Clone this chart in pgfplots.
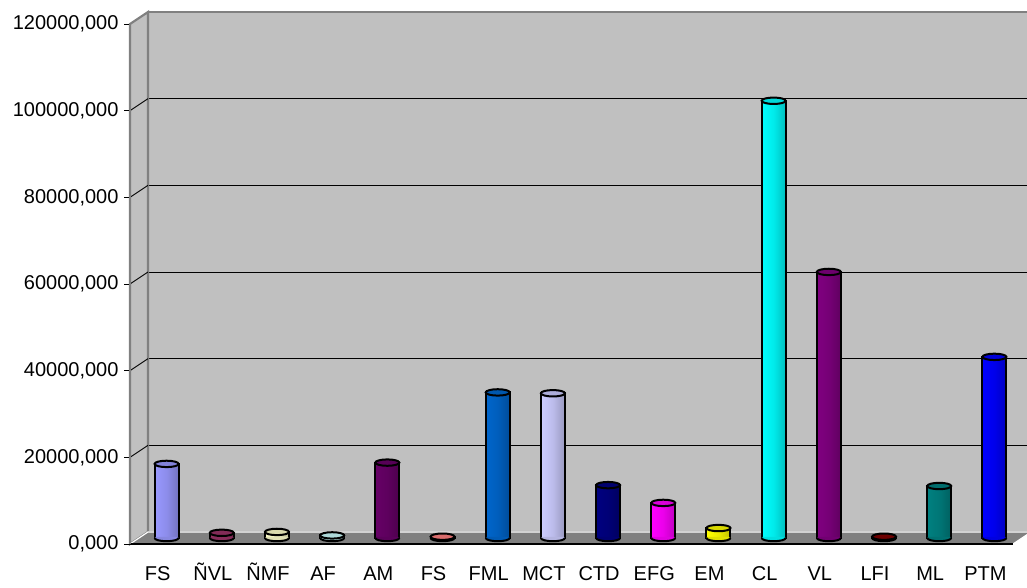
\documentclass[border=0pt]{standalone}
\usepackage{pgfplots}
\pgfplotsset{compat=1.18}
\usepackage{fontspec}
\setmainfont{Liberation Sans}

% Excel-style palette
\definecolor{wall}{HTML}{C0C0C0}
\definecolor{floorc}{HTML}{808080}
\definecolor{cA}{HTML}{9999FF}
\definecolor{cB}{HTML}{993366}
\definecolor{cC}{HTML}{FFFFCC}
\definecolor{cD}{HTML}{CCFFFF}
\definecolor{cE}{HTML}{660066}
\definecolor{cF}{HTML}{FF8080}
\definecolor{cG}{HTML}{0066CC}
\definecolor{cH}{HTML}{CCCCFF}
\definecolor{cI}{HTML}{000080}
\definecolor{cJ}{HTML}{FF00FF}
\definecolor{cK}{HTML}{FFFF00}
\definecolor{cL}{HTML}{00FFFF}
\definecolor{cM}{HTML}{800080}
\definecolor{cN}{HTML}{800000}
\definecolor{cO}{HTML}{008080}
\definecolor{cP}{HTML}{0000FF}

% top cap of a cylinder
\pgfdeclareplotmark{cyltop}{%
  \pgfpathellipse{\pgfpointorigin}{\pgfpoint{12pt}{0pt}}{\pgfpoint{0pt}{3.2pt}}%
  \pgfusepathqfillstroke}
% rounded foot of a cylinder: fill hides the straight bar edge, stroke draws the arc
\pgfdeclareplotmark{cylfoot}{%
  \pgfpathmoveto{\pgfpoint{-12pt}{0pt}}%
  \pgfpatharc{180}{360}{12pt and 3.2pt}%
  \pgfpathlineto{\pgfpoint{10.8pt}{1.2pt}}%
  \pgfpathlineto{\pgfpoint{-10.8pt}{1.2pt}}%
  \pgfpathclose
  \pgfusepathqfill
  \pgfpathmoveto{\pgfpoint{-12pt}{0pt}}%
  \pgfpatharc{180}{360}{12pt and 3.2pt}%
  \pgfusepathqstroke}

\pgfplotsset{
  base/.style={scale only axis, width=883pt, height=520pt,
    xmin=-0.5, xmax=15.5, ymin=0, ymax=120000, anchor=south west},
  body/.style={ybar, bar width=24pt, bar shift=0pt, draw=black, line width=2pt,
    left color=#1, right color=#1!75!black, middle color=#1!92!black},
  foot/.style={only marks, mark=cylfoot, line width=2pt,
    mark options={draw=black, fill=#1!88!black}},
  top/.style={only marks, mark=cyltop, line width=2pt,
    mark options={draw=black, fill=#1!85!black}},
}

\begin{document}
\begin{tikzpicture}[x=1pt,y=1pt]
\useasboundingbox (0,0) rectangle (1027,587);

% back wall with grid lines
\begin{axis}[base, at={(148pt,55pt)},
  axis background/.style={fill=wall},
  axis line style={draw=floorc, line width=2.2pt},
  ytick={0,20000,...,120000}, xtick=\empty, scaled y ticks=false,
  yticklabels={}, major tick length=0pt,
  ymajorgrids, grid style={black, line width=0.9pt}]
\end{axis}

% side wall
\filldraw[fill=wall, draw=floorc, line width=2.2pt]
  (130,43) -- (130,563) -- (148,575) -- (148,55) -- cycle;
\foreach \k in {1,...,5}
  \draw[black, line width=0.9pt] (130,43+86.667*\k) -- (148,55+86.667*\k);

% floor
\filldraw[fill=floorc, draw=white, line width=1.2pt]
  (130,43) -- (1013,43) -- (1031,55) -- (148,55) -- cycle;

% cylinders
\begin{axis}[base, at={(139pt,49pt)}, clip=false,
  axis lines=none, xtick=\empty, ytick=\empty]
% bodies
\addplot[body=cA] coordinates {(0,17100)};
\addplot[body=cB] coordinates {(1,1200)};
\addplot[body=cC] coordinates {(2,1400)};
\addplot[body=cD] coordinates {(3,600)};
\addplot[body=cE] coordinates {(4,17400)};
\addplot[body=cF] coordinates {(5,300)};
\addplot[body=cG] coordinates {(6,33600)};
\addplot[body=cH] coordinates {(7,33400)};
\addplot[body=cI] coordinates {(8,12200)};
\addplot[body=cJ] coordinates {(9,8100)};
\addplot[body=cK] coordinates {(10,2300)};
\addplot[body=cL] coordinates {(11,100900)};
\addplot[body=cM] coordinates {(12,61400)};
\addplot[body=cN] coordinates {(13,300)};
\addplot[body=cO] coordinates {(14,12000)};
\addplot[body=cP] coordinates {(15,41800)};
% rounded feet
\addplot[foot=cA] coordinates {(0,0)};
\addplot[foot=cB] coordinates {(1,0)};
\addplot[foot=cC] coordinates {(2,0)};
\addplot[foot=cD] coordinates {(3,0)};
\addplot[foot=cE] coordinates {(4,0)};
\addplot[foot=cF] coordinates {(5,0)};
\addplot[foot=cG] coordinates {(6,0)};
\addplot[foot=cH] coordinates {(7,0)};
\addplot[foot=cI] coordinates {(8,0)};
\addplot[foot=cJ] coordinates {(9,0)};
\addplot[foot=cK] coordinates {(10,0)};
\addplot[foot=cL] coordinates {(11,0)};
\addplot[foot=cM] coordinates {(12,0)};
\addplot[foot=cN] coordinates {(13,0)};
\addplot[foot=cO] coordinates {(14,0)};
\addplot[foot=cP] coordinates {(15,0)};
% top caps
\addplot[top=cA] coordinates {(0,17100)};
\addplot[top=cB] coordinates {(1,1200)};
\addplot[top=cC] coordinates {(2,1400)};
\addplot[top=cD] coordinates {(3,600)};
\addplot[top=cE] coordinates {(4,17400)};
\addplot[top=cF] coordinates {(5,300)};
\addplot[top=cG] coordinates {(6,33600)};
\addplot[top=cH] coordinates {(7,33400)};
\addplot[top=cI] coordinates {(8,12200)};
\addplot[top=cJ] coordinates {(9,8100)};
\addplot[top=cK] coordinates {(10,2300)};
\addplot[top=cL] coordinates {(11,100900)};
\addplot[top=cM] coordinates {(12,61400)};
\addplot[top=cN] coordinates {(13,300)};
\addplot[top=cO] coordinates {(14,12000)};
\addplot[top=cP] coordinates {(15,41800)};
\end{axis}

% front axes: ticks and labels
\begin{axis}[base, at={(130pt,43pt)},
  axis x line*=bottom, axis y line*=left,
  x axis line style={black, line width=1.2pt},
  y axis line style={floorc, line width=1.6pt},
  tick align=outside, tick style={black, line width=0.9pt},
  ytick={0,20000,...,120000}, major tick length=6pt,
  scaled y ticks=false,
  /pgf/number format/assume math mode=true,
  yticklabel={\pgfmathprintnumber[fixed, fixed zerofill, precision=3,
    use comma, 1000 sep={}]{\tick}},
  yticklabel style={font=\fontsize{20}{23}\selectfont, anchor=east, xshift=-2pt},
  xtick={0,...,15},
  xticklabels={FS,ÑVL,ÑMF,AF,AM,FS,FML,MCT,CTD,EFG,EM,CL,VL,LFI,ML,PTM},
  x tick style={draw=none},
  minor xtick={-0.5,0.5,...,15.5}, minor tick length=8pt,
  minor x tick style={black, line width=0.9pt},
  xticklabel style={font=\fontsize{20}{23}\selectfont, anchor=base, yshift=-30pt}]
\end{axis}
\end{tikzpicture}
\end{document}
